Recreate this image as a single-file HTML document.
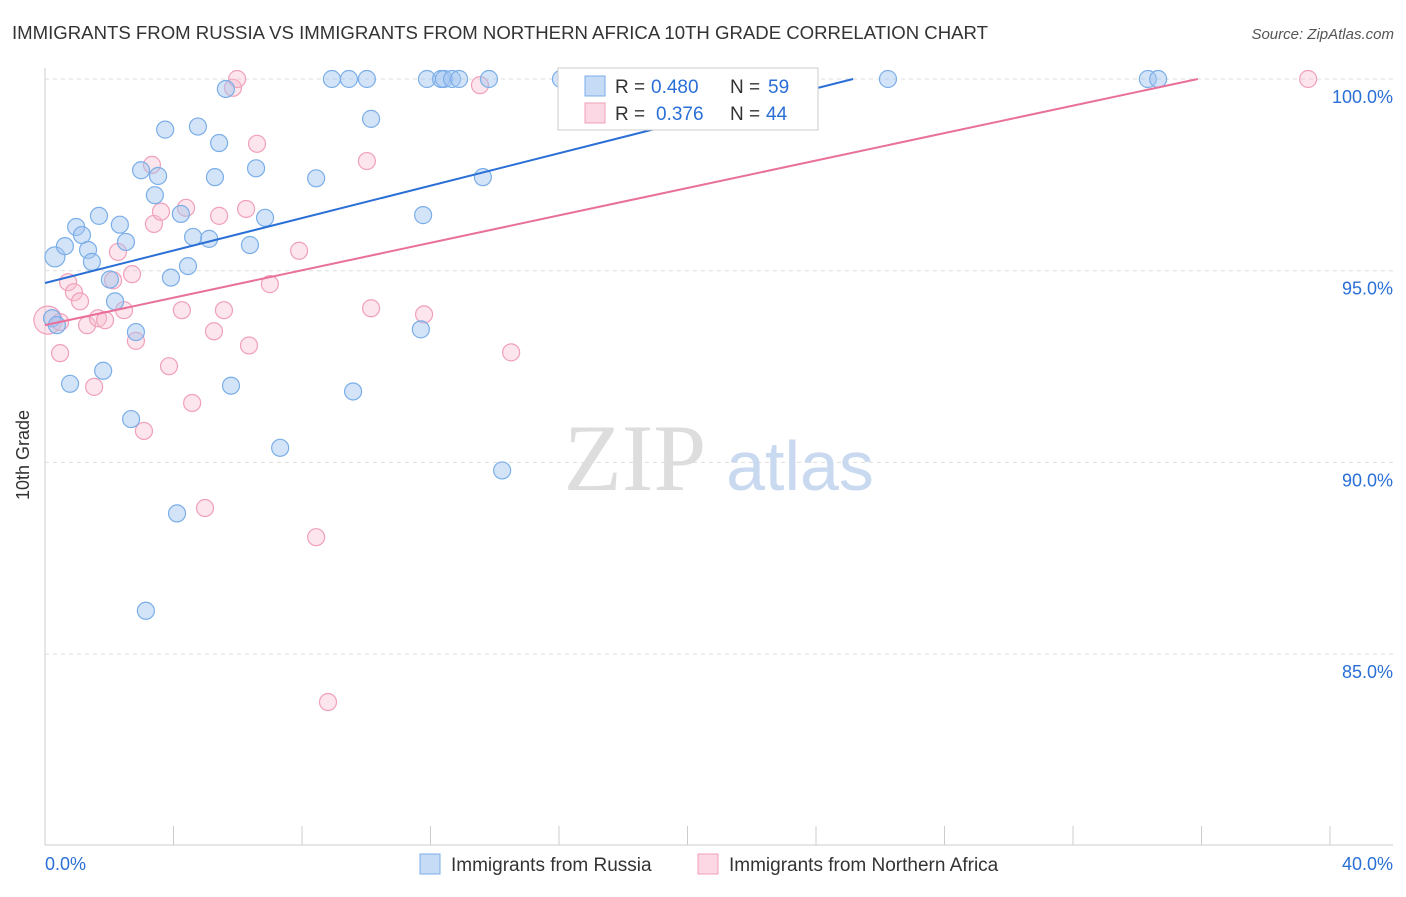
<!DOCTYPE html>
<html><head><meta charset="utf-8"><style>
body{margin:0;background:#fff;font-family:"Liberation Sans",sans-serif;}
</style></head><body>
<svg width="1406" height="892" viewBox="0 0 1406 892" xmlns="http://www.w3.org/2000/svg">
<text x="12" y="39" font-size="18" fill="#333" textLength="976" lengthAdjust="spacingAndGlyphs">IMMIGRANTS FROM RUSSIA VS IMMIGRANTS FROM NORTHERN AFRICA 10TH GRADE CORRELATION CHART</text>
<text x="1394" y="39" font-size="15" fill="#555" font-style="italic" text-anchor="end">Source: ZipAtlas.com</text>
<g id="grid"></g>
<text x="635" y="490" font-size="95" fill="#ddd" font-family="Liberation Serif,serif" text-anchor="middle">ZIP</text>
<text x="800" y="490" font-size="70" fill="#c8d9f0" text-anchor="middle">atlas</text>
<g id="pts"></g>
<g id="lines"></g>
<text x="29" y="455" font-size="18" fill="#333" transform="rotate(-90 29 455)" text-anchor="middle">10th Grade</text>
<g>
<rect x="558" y="68" width="260" height="62" fill="#fff" stroke="#ccc"/>
<rect x="585" y="76" width="20" height="20" fill="rgba(160,195,240,0.6)" stroke="#7aaee8"/>
<rect x="585" y="103" width="20" height="20" fill="rgba(248,190,208,0.6)" stroke="#f0a0b8"/>
<text x="615" y="93" font-size="19" fill="#333">R =</text>
<text x="651" y="93" font-size="19" fill="#2a6fd6">0.480</text>
<text x="730" y="93" font-size="19" fill="#333">N =</text>
<text x="768" y="93" font-size="19" fill="#2a6fd6">59</text>
<text x="615" y="120" font-size="19" fill="#333">R =</text>
<text x="656" y="120" font-size="19" fill="#2a6fd6">0.376</text>
<text x="730" y="120" font-size="19" fill="#333">N =</text>
<text x="766" y="120" font-size="19" fill="#2a6fd6">44</text>
</g>
<g>
<rect x="420" y="854" width="20" height="20" fill="rgba(160,195,240,0.6)" stroke="#7aaee8"/>
<text x="451" y="871" font-size="19" fill="#333">Immigrants from Russia</text>
<rect x="698" y="854" width="20" height="20" fill="rgba(248,190,208,0.6)" stroke="#f0a0b8"/>
<text x="729" y="871" font-size="19" fill="#333">Immigrants from Northern Africa</text>
</g>
</svg>
<script>
const xTicks=[0,4,8,12,16,20,24,28,32,36,40];
const yTicks=[85,90,95,100];
const blueX=[0.31,0.62,0.97,1.15,1.34,1.46,1.68,2.02,2.18,2.33,2.52,2.83,2.99,3.42,3.52,3.74,3.92,4.23,4.45,4.61,4.76,5.11,5.29,5.42,5.63,5.79,6.38,6.57,6.85,7.32,8.44,8.93,9.46,9.59,10.02,10.15,11.7,11.77,11.89,12.33,12.42,12.67,12.89,13.63,13.82,14.23,16.06,18.27,21.07,26.24,34.33,34.65,0.78,1.81,2.68,4.11,3.14,0.22,0.37];
const blueY=[95.36,95.64,96.14,95.93,95.54,95.23,96.43,94.77,94.2,96.2,95.75,93.4,97.62,96.97,97.47,98.68,94.82,96.48,95.12,95.88,98.76,95.83,97.44,98.33,99.74,92.0,95.67,97.67,96.38,90.38,97.41,100,100,91.85,100,98.96,93.47,96.45,100,100,100,100,100,97.44,100,89.79,100,100,100,100,100,100,92.05,92.39,91.13,88.67,86.13,93.76,93.58];
const pinkX=[0.09,0.47,0.72,0.9,1.09,1.31,1.53,1.65,1.87,2.12,2.27,2.46,2.71,2.83,3.08,3.33,3.39,3.61,3.86,4.26,4.39,4.58,4.98,5.26,5.42,5.57,5.85,5.98,6.26,6.35,6.6,7.0,7.91,8.44,8.81,10.02,10.15,11.8,13.54,14.51,19.14,20.08,39.32,0.47];
const pinkY=[93.71,92.85,94.7,94.44,94.2,93.58,91.97,93.76,93.71,94.75,95.49,93.97,94.91,93.17,90.82,97.76,96.22,96.54,92.51,93.97,96.64,91.55,88.81,93.42,96.43,93.97,99.77,100,96.61,93.05,98.31,94.65,95.52,88.05,83.75,97.86,94.02,93.86,99.84,92.87,100,100,100,93.66];
const ns="http://www.w3.org/2000/svg";
const X0=45,XS=32.125,Y0=79,YS=38.34;
function sx(v){return X0+v*XS;}
function sy(v){return Y0+(100-v)*YS;}
function mk(t,a,p){const e=document.createElementNS(ns,t);for(const k in a)e.setAttribute(k,a[k]);p.appendChild(e);return e;}
const grid=document.getElementById('grid');
const ax=mk('line',{x1:45,y1:68,x2:45,y2:845,stroke:'#ccc'},grid);


const bx=mk('line',{x1:45,y1:845,x2:1393,y2:845,stroke:'#ccc'},grid);


yTicks.forEach(v=>{
 const l=mk('line',{x1:45,x2:1393,y1:sy(v),y2:sy(v),stroke:'#ddd','stroke-dasharray':'4,4'},grid);
 
 
 const t=mk('text',{x:1393,y:sy(v)+24,'font-size':18,fill:'#2a6fd6','text-anchor':'end'},grid);
 t.textContent=v.toFixed(1)+'%';
 
 
});
xTicks.forEach(v=>{
 const l=mk('line',{x1:sx(v),x2:sx(v),y1:826,y2:845,stroke:'#ccc'},grid);
 
 
});
[[0,'start',45],[40,'end',1393]].forEach(a=>{
 const t=mk('text',{x:a[2],y:870,'font-size':18,fill:'#2a6fd6','text-anchor':a[1]},grid);
 t.textContent=a[0].toFixed(1)+'%';
 
 
});
const pts=document.getElementById('pts');
function draw(xs,ys,fill,stroke,name){
 xs.forEach((v,i)=>{
  const r=(i===0&&name==='blue-point')?10:(i===0?14:8.5);
  const c=mk('circle',{cx:sx(v),cy:sy(ys[i]),r:r,fill:fill,stroke:stroke,'stroke-width':1.2},pts);
  
  
 });
}
draw(pinkX,pinkY,'rgba(248,190,208,0.4)','#f0a0b8','pink-point');
draw(blueX,blueY,'rgba(160,195,240,0.45)','#7aaee8','blue-point');
const blueLine=[94.68,0.2115];
const pinkLine=[93.58,0.1789];
const lines=document.getElementById('lines');
[[blueLine,'#2a6fd6','blue-trend-line'],[pinkLine,'#e8709a','pink-trend-line']].forEach(d=>{
 const [b,m]=d[0];const xe=Math.min(40,(100-b)/m);
 const l=mk('line',{x1:sx(0),y1:sy(b),x2:sx(xe),y2:sy(b+m*xe),stroke:d[1],'stroke-width':2},lines);
 
 
});
</script>
</body></html>
